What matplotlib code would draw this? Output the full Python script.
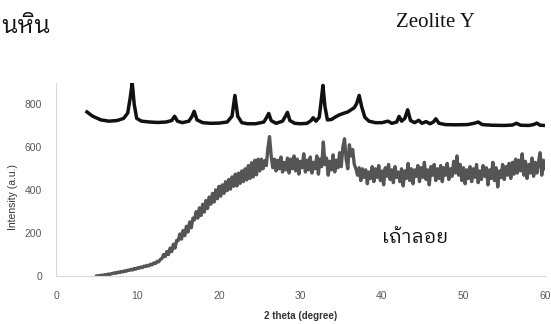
import matplotlib
matplotlib.use("Agg")
import matplotlib.pyplot as plt
from matplotlib import font_manager
from matplotlib.ft2font import FT2Font

# Zeolite Y pattern (black)
zeo_x = [3.8, 4.5, 5.5, 6.5, 7.5, 8.3, 8.8, 9.1, 9.35, 9.6, 9.9, 10.5, 11.5, 12.5, 13.5,
         14.2, 14.55, 14.9, 15.5, 16.3, 16.7, 16.95, 17.3, 18.0, 19.0, 20.0, 21.0, 21.6,
         21.95, 22.3, 22.8, 23.5, 24.5, 25.5, 25.85, 26.1, 26.4, 27.0, 27.8, 28.15, 28.4,
         28.7, 29.3, 30.0, 30.8, 31.3, 31.55, 31.9, 32.3, 32.55, 32.75, 33.0, 33.3, 33.8,
         34.3, 34.8, 35.4, 35.8, 36.2, 36.6, 36.9, 37.2, 37.5, 37.9, 38.4, 39.2, 40.0,
         40.5, 40.75, 41.2, 41.8, 42.1, 42.4, 42.8, 43.15, 43.5, 44.0, 44.5, 44.9, 45.4,
         45.9, 46.3, 46.6, 47.0, 47.8, 49.0, 50.5, 51.3, 51.8, 52.3, 53.5, 55.0, 56.0,
         56.5, 57.0, 58.0, 58.6, 59.0, 59.4, 60.0]
zeo_y = [765, 745, 728, 722, 725, 735, 760, 830, 900, 800, 735, 722, 718, 716, 718,
         725, 745, 722, 715, 722, 745, 768, 728, 715, 712, 713, 718, 745,
         842, 745, 715, 710, 710, 718, 740, 758, 725, 712, 722, 745, 763,
         725, 712, 710, 712, 725, 738, 722, 740, 820, 889, 790, 728, 730,
         742, 752, 760, 765, 775, 785, 805, 842, 790, 740, 722, 715, 715,
         720, 722, 712, 718, 744, 722, 735, 775, 725, 715, 726, 712, 720,
         710, 718, 733, 712, 706, 705, 706, 712, 718, 706, 703, 702, 704,
         712, 703, 702, 706, 713, 703, 702]

# fly ash pattern (grey), every 0.2 degree from 5.0 to 60.0
ash_x = [round(5.0 + 0.2 * i, 1) for i in range(276)]
ash_y = [0, 2, 1, 4, 3, 6, 5, 9, 7, 11,
         12, 15, 13, 18, 16, 21, 19, 24, 22, 27,
         26, 31, 28, 35, 32, 38, 36, 42, 39, 46,
         44, 50, 47, 55, 52, 61, 58, 68, 66, 77,
         82, 100, 90, 114, 100, 130, 114, 148, 130, 166,
         165, 196, 172, 212, 188, 232, 205, 252, 225, 270,
         262, 300, 270, 318, 282, 335, 298, 352, 315, 368,
         335, 385, 345, 402, 360, 418, 372, 425, 385, 440,
         398, 450, 405, 462, 418, 475, 420, 480, 432, 490,
         440, 500, 448, 515, 455, 528, 462, 540, 472, 545,
         490, 545, 500, 538, 515, 595, 650, 560, 505, 545,
         490, 540, 500, 555, 485, 530, 495, 550, 480, 545,
         500, 560, 490, 545, 475, 535, 505, 570, 485, 540,
         495, 555, 480, 530, 500, 560, 475, 545, 510, 625,
         520, 550, 470, 535, 495, 565, 485, 540, 505, 575,
         510, 600, 640, 545, 500, 612, 560, 590, 520, 500,
         470, 505, 445, 500, 460, 495, 430, 485, 455, 510,
         440, 500, 460, 515, 445, 490, 425, 505, 465, 520,
         450, 495, 435, 510, 460, 485, 440, 500, 420, 490,
         455, 525, 445, 500, 430, 495, 465, 515, 440, 505,
         460, 530, 450, 495, 425, 510, 470, 520, 445, 500,
         455, 515, 440, 505, 470, 525, 450, 500, 465, 535,
         480, 560, 470, 520, 445, 505, 430, 495, 455, 510,
         440, 500, 460, 520, 435, 490, 450, 515, 465, 505,
         425, 495, 455, 530, 445, 505, 415, 490, 460, 520,
         450, 510, 470, 525, 455, 530, 475, 545, 480, 540,
         490, 570, 470, 535, 455, 520, 480, 550, 465, 530,
         480, 530, 575, 470, 540, 500]

x_ticks = [0, 10, 20, 30, 40, 50, 60]
y_ticks = [0, 200, 400, 600, 800]


def find_thai_font():
    # prefer a regular-weight face that has Thai glyphs
    found = []
    for f in font_manager.fontManager.ttflist:
        try:
            if 0x0E19 in FT2Font(f.fname).get_charmap():
                found.append(f)
        except Exception:
            pass
    if not found:
        return "DejaVu Sans"
    found.sort(key=lambda f: (abs(int(f.weight) - 400) if str(f.weight).isdigit() else 0,
                              f.style != "normal", "Looped" not in f.name))
    return found[0].name


thai = find_thai_font()
plt.rcParams["font.family"] = ["Liberation Sans", "DejaVu Sans"]

fig = plt.figure(figsize=(5.51, 3.24), dpi=100)
ax = fig.add_axes([56 / 551, 1 - 276 / 324, (545 - 56) / 551, (276 - 83) / 324])

ax.plot(ash_x, ash_y, color="#555555", lw=2.4)
ax.plot(zeo_x, zeo_y, color="#111111", lw=2.5)

ax.set_xlim(0, 60)
ax.set_ylim(0, 900)
ax.set_xticks(x_ticks)
ax.set_yticks(y_ticks)
ax.tick_params(length=0, labelsize=7.5, labelcolor="#595959")
ax.tick_params(axis="x", pad=11)
ax.tick_params(axis="y", pad=10)
for s in ["top", "right"]:
    ax.spines[s].set_visible(False)
for s in ["left", "bottom"]:
    ax.spines[s].set_color("#d9d9d9")
    ax.spines[s].set_linewidth(0.8)

ax.set_xlabel("2 theta (degree)", fontsize=7, fontweight="bold", color="#333333", labelpad=7)
fig.text(13 / 551, 1 - 197 / 324, "Intensity (a.u.)", rotation=90, fontsize=7.5,
         color="#333333", ha="center", va="center")

fig.text(1 / 551, 1 - 33 / 324, "นหิน", fontsize=17, family=[thai, "DejaVu Sans"],
         ha="left", va="baseline", color="#111111")
fig.text(435 / 551, 1 - 27 / 324, "Zeolite Y", fontsize=15, family="Liberation Serif",
         ha="center", va="baseline", color="#111111")
fig.text(415 / 551, 1 - 243 / 324, "เถ้าลอย", fontsize=14, family=[thai, "DejaVu Sans"],
         ha="center", va="baseline", color="#111111")

fig.savefig("out.png", dpi=100)
